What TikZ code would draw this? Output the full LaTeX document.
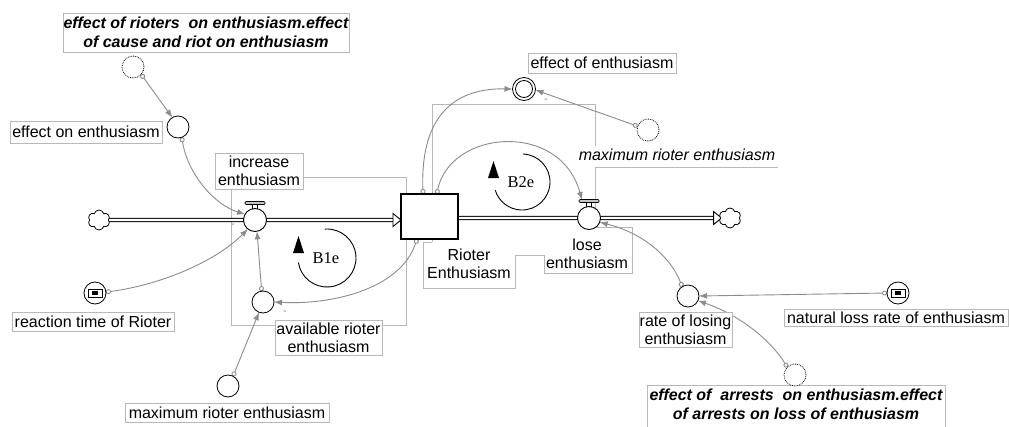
\documentclass[tikz,border=0pt]{standalone}
\usepackage{fontspec}
\setmainfont{Liberation Sans}
\newfontfamily\loopfont{Liberation Serif}
\usetikzlibrary{arrows.meta,shapes.symbols,calc}
\pgfdeclarelayer{bg}
\pgfdeclarelayer{mid}
\pgfsetlayers{bg,mid,main}
\definecolor{conncol}{HTML}{8C8C8C}
\definecolor{boxcol}{HTML}{B8B8B8}
\begin{document}
\begin{tikzpicture}[x=1pt,y=-1pt,
  every node/.style={font=\fontsize{16}{18}\selectfont, inner sep=0pt, outer sep=0pt},
  lbox/.style={draw=boxcol, line width=0.7pt, fill=white, align=center},
  aux/.style={circle, draw=black, line width=0.8pt, fill=white, minimum size=22pt},
  ghost/.style={circle, draw=black, densely dotted, line width=0.8pt, fill=white, minimum size=22pt},
  valvesym/.style={circle, draw=black, line width=0.9pt, fill=white, minimum size=23pt},
  stockbox/.style={rectangle, draw=black, line width=1.2pt, fill=white, minimum width=57pt, minimum height=45pt},
  cloudsym/.style={cloud, cloud puffs=6, cloud puff arc=150, cloud ignores aspect, draw=black, line width=0.8pt, fill=white, minimum width=22pt, minimum height=20pt},
  conn/.style={draw=conncol, line width=0.9pt, {Circle[open,length=5pt,width=5pt]}-{Latex[length=8pt,width=6pt]}},
  pipe/.style={draw=black, double=white, double distance=2.4pt, line width=0.9pt},
  pipetip/.style={draw=black, line width=0.9pt, fill=white},
  grayline/.style={draw=boxcol, line width=0.7pt},
  polarity/.style={text=conncol, font=\fontsize{11}{11}\selectfont},
  looparc/.style={draw=black, line width=0.9pt},
  looplabel/.style={font=\loopfont\fontsize{16.5}{16.5}\selectfont},
  bolditalic/.style={font=\fontsize{16}{19}\selectfont\bfseries\itshape},
  handlebar/.style={draw=black, line width=0.7pt, fill=gray!45, rounded corners=1pt},
]
\useasboundingbox (0,0) rectangle (1009,426);
\begin{pgfonlayer}{bg}
\fill[white] (0,0) rectangle (1009,426);
% label frames
\draw[grayline] (231,177) rectangle (406,325);
\draw[grayline] (432,242) -- (432,104) -- (595,104) -- (595,146);
\draw[grayline] (595,167) -- (778,167);
\draw[grayline] (595,167) -- (595,227) -- (632,227) -- (632,273) -- (544,273) -- (544,255) -- (515,255) -- (515,288) -- (423,288) -- (423,242) -- (432,242);
\end{pgfonlayer}

% labels
\node[lbox, bolditalic, minimum width=286pt, minimum height=39pt] (lcause) at (206,32.5) {effect of rioters\ \ on enthusiasm.effect\\of cause and riot on enthusiasm};
\node[lbox, minimum width=152pt, minimum height=22pt] (leffon) at (86,132) {effect on enthusiasm};
\node[lbox, minimum width=88pt, minimum height=36pt] (linc) at (259,171) {increase\\enthusiasm};
\node[lbox, minimum width=107pt, minimum height=35pt] (lavail) at (328.5,337.5) {available rioter\\enthusiasm};
\node[lbox, minimum width=204pt, minimum height=19pt] (lmaxb) at (227,412.5) {maximum rioter enthusiasm};
\node[lbox, minimum width=162pt, minimum height=19pt] (lreact) at (93,321.5) {reaction time of Rioter};
\node[lbox, minimum width=148pt, minimum height=20pt] (leffen) at (602,63) {effect of enthusiasm};
\node[fill=white, inner sep=1pt, font=\fontsize{16}{18}\selectfont\itshape] (lmaxi) at (677,155) {maximum rioter enthusiasm};
\node[align=center] (lstock) at (469,263.5) {Rioter\\Enthusiasm};
\node[align=center] (llose) at (587,254) {lose\\enthusiasm};
\node[lbox, minimum width=93pt, minimum height=35pt] (lrate) at (685.5,329.5) {rate of losing\\enthusiasm};
\node[lbox, minimum width=224pt, minimum height=17pt] (lnat) at (896,317.5) {natural loss rate of enthusiasm};
\draw[draw=boxcol, line width=0.7pt, fill=white] (647,385) rectangle (945,432);
\node[bolditalic, align=center] (larrest) at (796,404) {effect of\ \ arrests\ \ on enthusiasm.effect\\of arrests on loss of enthusiasm};

% symbols
\node[ghost] (gcause) at (133,67) {};
\node[aux] (effon) at (178,127) {};
\node[cloudsym] (cloudL) at (99,220) {};
\node[valvesym] (incv) at (255,220) {};
\node[stockbox] (stock) at (429.5,216.5) {};
\node[valvesym] (losev) at (589,218) {};
\node[cloudsym] (cloudR) at (730,218) {};
\node[aux] (avail) at (263,302) {};
\node[aux] (react) at (95,293) {};
\node[aux] (maxb) at (228,386) {};
\node[aux, minimum size=23pt] (effen) at (524,89) {};
\draw[line width=0.8pt] (effen.center) circle[radius=8.5];
\node[ghost] (gmax) at (648,130) {};
\node[aux] (rate) at (688,296) {};
\node[aux] (natural) at (898,293) {};
\node[ghost] (garrest) at (795,375) {};

% constant icons
\foreach \c in {react,natural}{
  \draw[line width=0.9pt] ($(\c)+(-7,-4)$) rectangle ($(\c)+(7,4)$);
  \fill ($(\c)+(-3,-1.8)$) rectangle ($(\c)+(3,1.8)$);
}

% valve handles
\foreach \v in {incv,losev}{
  \draw[line width=0.6pt] ($(\v.north)+(-2.5,0)$) -- ++(0,-4) ($(\v.north)+(2.5,0)$) -- ++(0,-4);
  \draw[handlebar] ($(\v.north)+(-10,-4)$) rectangle ($(\v.north)+(10,-7)$);
}
\coordinate (losetop) at (582,200);

% flows
\begin{pgfonlayer}{mid}
\coordinate (intip) at (stock.west |- incv);
\coordinate (outtip) at ($(cloudR.west)+(1,0)$);
\draw[pipe] (cloudL.east) -- ($(intip)+(-8,0)$);
\draw[pipetip] (intip) -- ++(-8,-6.5) -- ++(0,13) -- cycle;
\draw[pipe] (stock.east |- losev) -- ($(outtip)+(-8,0)$);
\draw[pipetip] (outtip) -- ++(-8,-6.5) -- ++(0,13) -- cycle;

% connectors
\draw[conn] (gcause.-42) -- (effon.121);
\draw[conn] (effon.-70) .. controls (188,175) and (215,205) .. (incv.150);
\draw[conn] (react.5) .. controls (160,285) and (215,262) .. (incv.-128);
\draw[conn] (avail.97) -- (incv.-80);
\draw[conn] (stock.-119) .. controls (400,290) and (330,305) .. (avail.0);
\draw[conn] (maxb.63) -- (avail.-111);
\draw[conn] (stock.106) .. controls (420,110) and (460,88) .. (effen.180);
\draw[conn] (stock.72) .. controls (450,130) and (560,120) .. (losetop);
\draw[conn] (gmax.160) -- (effen.-5);
\draw[conn] (rate.122) .. controls (670,255) and (640,232) .. (losev.-22);
\draw[conn] (natural.180) -- (rate.0);
\draw[conn] (garrest.135) .. controls (772,342) and (742,316) .. (rate.-25);
\end{pgfonlayer}

% polarity marks
\node[polarity] (p1) at (233,226) {-};
\node[polarity] (p2) at (285,313) {-};
\node[polarity] (p3) at (546,101) {-};

% loop symbols
\node[looplabel] (b1) at (326,258) {B1e};
\draw[looparc] (327,258) ++(-94:29) arc[start angle=-94, end angle=171, radius=29];
\fill (298.5,236) -- (304,253) -- (293,253) -- cycle;
\node[looplabel] (b2) at (521,182) {B2e};
\draw[looparc] (522,182) ++(-88:28) arc[start angle=-88, end angle=163, radius=28];
\fill (493.5,161) -- (499,178) -- (488,178) -- cycle;
\end{tikzpicture}
\end{document}
